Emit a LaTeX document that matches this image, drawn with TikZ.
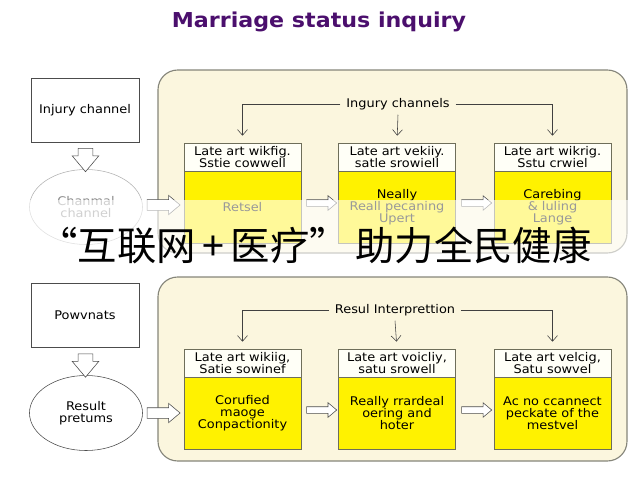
\documentclass[tikz,border=0pt]{standalone}
\usepackage{fontspec}
\setmainfont{DejaVu Sans}[FakeStretch=1.08]
\newfontfamily\cjkfont{Noto Sans CJK SC}
\usetikzlibrary{shapes.geometric,shapes.arrows,arrows.meta,calc}
\definecolor{panelfill}{HTML}{FBF6DE}
\definecolor{paneldraw}{HTML}{85857A}
\definecolor{boxyellow}{HTML}{FFF200}
\definecolor{boxdraw}{HTML}{6E6E5A}
\definecolor{titlepurple}{HTML}{4B0F6D}
\tikzstyle{panel}=[
        draw=paneldraw,
        fill=panelfill,
        thick,
        rounded corners=14pt
]
\tikzstyle{sidebox}=[
        draw=black!70,
        fill=white,
        minimum width=2.7cm,
        minimum height=1.6cm,
        inner sep=0pt,
        font=\fontsize{8.5}{9}\selectfont
]
\tikzstyle{sideoval}=[
        ellipse,
        draw=black!70,
        fill=white,
        minimum width=2.825cm,
        minimum height=1.875cm,
        inner sep=0pt,
        align=center,
        font=\fontsize{8.5}{8.5}\selectfont
]
\tikzstyle{headbox}=[
        draw=boxdraw,
        fill=white!97!yellow,
        minimum width=2.925cm,
        minimum height=0.7cm,
        inner sep=0pt,
        align=center,
        font=\fontsize{8.5}{8.5}\selectfont
]
\tikzstyle{bodybox}=[
        draw=boxdraw,
        fill=boxyellow,
        minimum width=2.925cm,
        minimum height=1.8cm,
        inner sep=0pt,
        align=center,
        font=\fontsize{8.5}{8.5}\selectfont
]
\tikzstyle{hollow}=[
        single arrow,
        draw=black!70,
        fill=white,
        single arrow tip angle=80
]
\tikzstyle{link}=[
        draw=black!75,
        -{Straight Barb[length=4pt,width=7pt]},
        shorten >=5pt
]
\tikzstyle{panellabel}=[
        fill=panelfill,
        inner xsep=4pt,
        font=\fontsize{8.5}{9}\selectfont
]

\begin{document}
\begin{tikzpicture}[x=0.025cm,y=-0.025cm]
                    \useasboundingbox (0,0) rectangle (640,480);

                    \node[font=\bfseries\fontsize{14.6}{17}\selectfont, text=titlepurple] (title) at (319,22) {Marriage status inquiry};

                    \draw[panel] (158,70) rectangle (627,253);
                    \draw[panel] (158,277) rectangle (627,461);

                    \node[sidebox] (inqbox) at (85,110) {Injury channel};
                    \node[sideoval, draw=gray!60, text=gray!90] (chanoval) at (86,207) {Chanmal\\channel};
                    \node[hollow, shape border rotate=270, minimum height=0.55cm, inner sep=0.175cm, single arrow head extend=0.15cm] (arrowa) at ($(inqbox.south)!0.5!(chanoval.north)$) {};
                    \node[hollow, anchor=tail, minimum height=0.825cm, inner sep=0.125cm, single arrow head extend=0.11cm] (arrowb) at ($(chanoval.east)+(4,-2)$) {};

                    \node[sidebox] (pownbox) at (85,315) {Powvnats};
                    \node[sideoval] (resoval) at (86,413) {Result\\pretums};
                    \node[hollow, shape border rotate=270, minimum height=0.55cm, inner sep=0.175cm, single arrow head extend=0.15cm] (arrowc) at ($(pownbox.south)!0.5!(resoval.north)$) {};
                    \node[hollow, anchor=tail, minimum height=0.825cm, inner sep=0.125cm, single arrow head extend=0.11cm] (arrowd) at ($(resoval.east)+(4,0)$) {};

                    \node[headbox] (topah) at (242.5,157) {Late art wikfig.\\Sstie cowwell};
                    \node[bodybox] (topa) at (242.5,207) {Retsel};
                    \node[headbox] (topbh) at (397,157) {Late art vekiiy.\\satle srowiell};
                    \node[bodybox] (topb) at (397,207) {Neally\\Reall pecaning\\Upert};
                    \node[headbox] (topch) at (552.5,157) {Late art wikrig.\\Sstu crwiel};
                    \node[bodybox] (topc) at (552.5,207) {Carebing\\\& luling\\Lange};

                    \node[headbox] (lowah) at (242.5,363) {Late art wikiig,\\Satie sowinef};
                    \node[bodybox] (lowa) at (242.5,413) {Corufied\\maoge\\Conpactionity};
                    \node[headbox] (lowbh) at (397,363) {Late art voicliy,\\satu srowell};
                    \node[bodybox] (lowb) at (397,413) {Really rrardeal\\oering and\\hoter};
                    \node[headbox] (lowch) at (552.5,363) {Late art velcig,\\Satu sowvel};
                    \node[bodybox] (lowc) at (552.5,413) {Ac no ccannect\\peckate of the\\mestvel};

                    \foreach \a/\b in {topa/topb,topb/topc} {
                        \node[hollow, minimum height=0.75cm, inner sep=0.075cm, single arrow head extend=0.1cm] (\a-\b) at ($(\a.east)!0.5!(\b.west)+(0,-4)$) {};
                    }
                    \foreach \a/\b in {lowa/lowb,lowb/lowc} {
                        \node[hollow, minimum height=0.75cm, inner sep=0.075cm, single arrow head extend=0.1cm] (\a-\b) at ($(\a.east)!0.5!(\b.west)+(0,-3)$) {};
                    }

                    \node[panellabel] (toplabel) at (398,104) {Ingury channels};
                    \draw[link] (toplabel.west) -| (topah.north);
                    \draw[link] (toplabel.east) -| (topch.north);
                    \draw[link] (toplabel.south) -- (topbh.north);

                    \node[panellabel] (lowlabel) at (395,310) {Resul Interprettion};
                    \draw[link] (lowlabel.west) -| (lowah.north);
                    \draw[link] (lowlabel.east) -| (lowch.north);
                    \draw[link] (lowlabel.south) -- (lowbh.north);

                    \fill[white, opacity=0.6] (0,200) rectangle (640,272);
                    \node[font=\cjkfont\fontsize{28}{30}\selectfont] (banner) at (315,245) {“互联网\,+\,医疗”\,助力全民健康};
                \end{tikzpicture}
\end{document}
